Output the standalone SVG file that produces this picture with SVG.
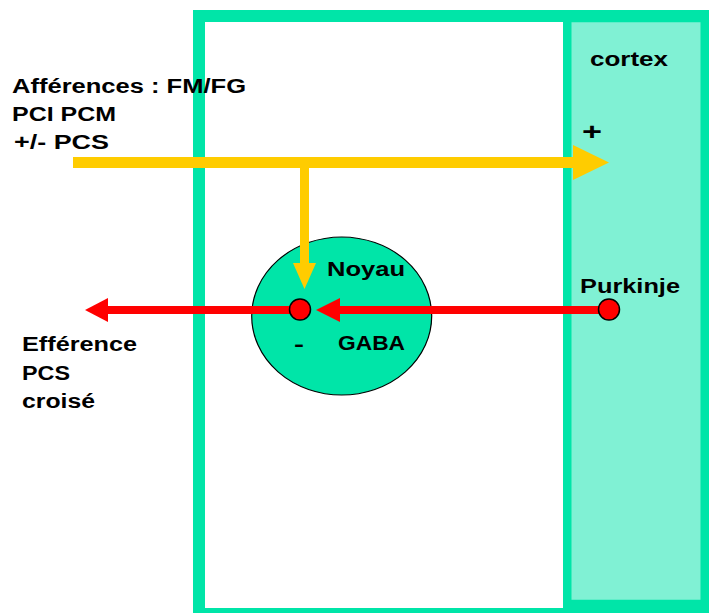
<svg xmlns="http://www.w3.org/2000/svg" width="709" height="613" viewBox="0 0 709 613">
  <style>
    .lbl { font-family: "Liberation Sans", Arial, sans-serif; font-weight: bold; font-size: 20px; fill: #000; }
    .frame { fill: #fff; stroke: #00E5A8; stroke-width: 12; }
    .cortex { fill: #80F1D4; stroke: #00E5A8; stroke-width: 8.5; }
    .nucleus { fill: #00E5A8; stroke: #000; stroke-width: 1.2; }
    .yel { stroke: #FFCC00; fill: none; }
    .yelhead { fill: #FFCC00; }
    .red { stroke: #FF0000; stroke-width: 8; fill: none; }
    .redhead { fill: #FF0000; }
    .syn { fill: #FF0000; stroke: #000; stroke-width: 1.5; }
  </style>

  <!-- cerebellum frame -->
  <g id="frame">
    <rect class="frame" x="199" y="16" width="530" height="598"/>
  </g>

  <!-- cortex band -->
  <g id="cortex">
    <rect class="cortex" x="567.25" y="18" width="137.5" height="586"/>
    <text class="lbl" x="590" y="66" textLength="78" lengthAdjust="spacingAndGlyphs">cortex</text>
    <text class="lbl" x="582" y="140" style="font-size:24px" textLength="20" lengthAdjust="spacingAndGlyphs">+</text>
  </g>

  <!-- deep nucleus -->
  <g id="noyau">
    <ellipse class="nucleus" cx="341.7" cy="316" rx="90" ry="79"/>
    <text class="lbl" x="327" y="276" textLength="78" lengthAdjust="spacingAndGlyphs">Noyau</text>
    <text class="lbl" x="338" y="350" textLength="67" lengthAdjust="spacingAndGlyphs">GABA</text>
    <text class="lbl" x="294" y="351" textLength="10" lengthAdjust="spacingAndGlyphs">-</text>
  </g>

  <!-- connectors -->
  <g id="connectors">
    <!-- afferent fibres -->
    <line class="yel" x1="73" y1="162.5" x2="575" y2="162.5" stroke-width="11"/>
    <polygon class="yelhead" points="573,145 609,162.5 573,180"/>
    <line class="yel" x1="304.5" y1="157" x2="304.5" y2="265" stroke-width="9"/>
    <polygon class="yelhead" points="293,263 316,263 304.5,289"/>
    <!-- Purkinje output to nucleus -->
    <line class="red" x1="338" y1="310" x2="609" y2="310"/>
    <polygon class="redhead" points="316,310 340,298 340,322"/>
    <!-- efferent output -->
    <line class="red" x1="106" y1="310" x2="300" y2="310"/>
    <polygon class="redhead" points="85,310 108,298 108,322"/>
  </g>

  <g id="synapse-noyau">
    <circle class="syn" cx="300" cy="309.5" r="10.5"/>
  </g>

  <g id="purkinje">
    <circle class="syn" cx="609" cy="309.5" r="10.5"/>
    <text class="lbl" x="580" y="293" textLength="100" lengthAdjust="spacingAndGlyphs">Purkinje</text>
  </g>

  <!-- afferent label -->
  <g id="afferences">
    <text class="lbl" x="12" y="93" textLength="234" lengthAdjust="spacingAndGlyphs">Afférences : FM/FG</text>
    <text class="lbl" x="12" y="121" textLength="104" lengthAdjust="spacingAndGlyphs">PCI PCM</text>
    <text class="lbl" x="14" y="149" textLength="95" lengthAdjust="spacingAndGlyphs">+/- PCS</text>
  </g>

  <!-- efferent label -->
  <g id="efference">
    <text class="lbl" x="22" y="351" textLength="115" lengthAdjust="spacingAndGlyphs">Efférence</text>
    <text class="lbl" x="22" y="380" textLength="48" lengthAdjust="spacingAndGlyphs">PCS</text>
    <text class="lbl" x="22" y="408" textLength="73" lengthAdjust="spacingAndGlyphs">croisé</text>
  </g>
</svg>
